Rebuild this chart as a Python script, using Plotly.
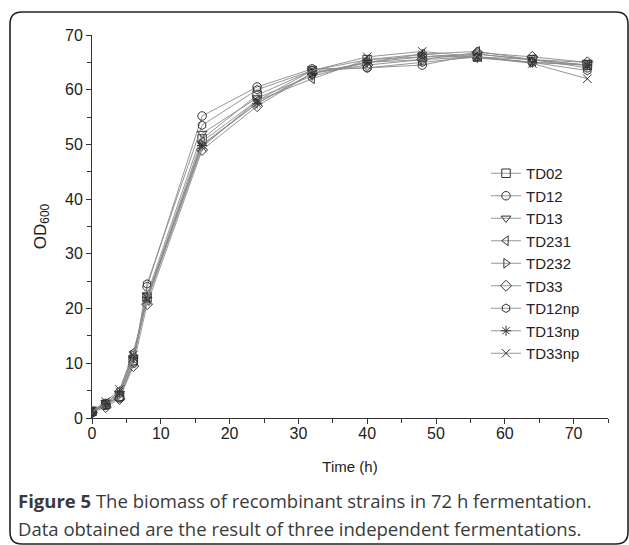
import plotly.graph_objects as go

time_h = [0, 2, 4, 6, 8, 16, 24, 32, 40, 48, 56, 64, 72]
strains = ["TD02", "TD12", "TD13", "TD231", "TD232", "TD33", "TD12np", "TD13np", "TD33np"]
TD02 = [1.2, 2.5, 4.0, 10.5, 22.0, 51.0, 59.0, 63.5, 65.5, 66.0, 66.0, 65.5, 64.5]
TD12 = [1.0, 2.3, 3.8, 10.0, 24.0, 55.2, 60.5, 63.8, 64.0, 64.5, 66.5, 65.5, 64.0]
TD13 = [1.3, 2.8, 4.5, 11.0, 22.5, 52.0, 58.5, 62.5, 65.0, 66.0, 66.5, 65.5, 65.0]
TD231 = [1.2, 2.6, 5.0, 12.0, 21.5, 50.5, 58.0, 62.0, 65.5, 66.5, 67.0, 65.5, 64.5]
TD232 = [1.1, 2.4, 4.2, 11.5, 22.0, 50.0, 57.5, 63.0, 65.0, 65.5, 66.0, 65.0, 64.5]
TD33 = [1.0, 2.0, 3.5, 9.5, 20.8, 49.0, 57.0, 63.0, 64.5, 65.5, 66.8, 66.0, 65.0]
TD12np = [1.2, 2.7, 3.6, 10.2, 24.5, 53.5, 60.0, 63.5, 64.0, 65.0, 66.0, 65.0, 63.5]
TD13np = [1.1, 2.5, 4.8, 11.0, 22.0, 49.8, 57.5, 63.0, 65.0, 66.5, 65.8, 65.0, 64.5]
TD33np = [1.3, 3.0, 5.2, 11.5, 21.5, 49.5, 58.0, 63.5, 66.0, 67.0, 66.0, 64.8, 62.0]
values = [TD02, TD12, TD13, TD231, TD232, TD33, TD12np, TD13np, TD33np]
symbols = ["square-open", "circle-open", "triangle-down-open", "triangle-left-open",
           "triangle-right-open", "diamond-open", "hexagon-open", "asterisk-open", "x-thin-open"]

W, H = 629, 545
L, R, T, B = 92, 21, 35, 127
pw, ph = W - L - R, H - T - B

def px(x):
    return (x - L) / pw

def py(y):
    return (H - B - y) / ph

fig = go.Figure()
for name, vals, sym in zip(strains, values, symbols):
    fig.add_trace(go.Scatter(
        x=time_h, y=vals, name=name, mode="lines+markers",
        line=dict(color="#8a8a8a", width=0.9),
        marker=dict(symbol=sym, size=8.5, color="#333333",
                    line=dict(color="#333333", width=1)),
    ))

tickfont = dict(family="Liberation Sans, Arial", size=16, color="#222222")
fig.update_xaxes(range=[0, 75], dtick=10, tick0=0, ticks="outside", ticklen=5,
                 tickcolor="#333333", showline=True, linecolor="#333333", linewidth=1,
                 showgrid=False, zeroline=False, tickfont=tickfont, ticklabelstandoff=-4,
                 minor=dict(dtick=5, ticks="outside", ticklen=4, tickcolor="#333333"),
                 title=dict(text="Time (h)", font=dict(family="Liberation Sans, Arial", size=15, color="#222222"), standoff=20))
fig.update_yaxes(range=[0, 70], dtick=10, tick0=0, ticks="outside", ticklen=5,
                 tickcolor="#333333", showline=True, linecolor="#333333", linewidth=1,
                 showgrid=False, zeroline=False, tickfont=tickfont,
                 minor=dict(dtick=5, ticks="outside", ticklen=4, tickcolor="#333333"),
                 title=dict(text="OD<sub>600</sub>", font=dict(family="Liberation Sans, Arial", size=17, color="#222222"), standoff=14))

r = 12
x0, x1, y0, y1 = 10, 628, 12, 544
def P(x, y):
    return f"{px(x):.5f},{py(y):.5f}"
path = (f"M {P(x0, y0 + r)} Q {P(x0, y0)} {P(x0 + r, y0)} L {P(x1 - r, y0)} "
        f"Q {P(x1, y0)} {P(x1, y0 + r)} L {P(x1, y1 - r)} Q {P(x1, y1)} {P(x1 - r, y1)} "
        f"L {P(x0 + r, y1)} Q {P(x0, y1)} {P(x0, y1 - r)} Z")
fig.add_shape(type="path", path=path, xref="paper", yref="paper",
              line=dict(color="#222222", width=1.6))

capfont = dict(family="Open Sans", size=18.5, color="#3a3a3a")
fig.add_annotation(text="<b>Figure 5</b> The biomass of recombinant strains in 72 h fermentation.",
                   xref="paper", yref="paper", x=px(16), y=py(500), xanchor="left", yanchor="middle",
                   showarrow=False, font=capfont)
fig.add_annotation(text="Data obtained are the result of three independent fermentations.",
                   xref="paper", yref="paper", x=px(16), y=py(528), xanchor="left", yanchor="middle",
                   showarrow=False, font=capfont)

fig.update_layout(
    width=W, height=H, margin=dict(l=L, r=R, t=T, b=B),
    paper_bgcolor="white", plot_bgcolor="white",
    font=dict(family="Liberation Sans, Arial", color="#222222"),
    legend=dict(x=px(486), y=py(157), xanchor="left", yanchor="top",
                bgcolor="rgba(0,0,0,0)", font=dict(family="Liberation Sans, Arial", size=15, color="#222222"),
                tracegroupgap=0),
)

fig.write_html("out.html", config={"displayModeBar": False},
               post_script="document.body.style.margin='0px';")
